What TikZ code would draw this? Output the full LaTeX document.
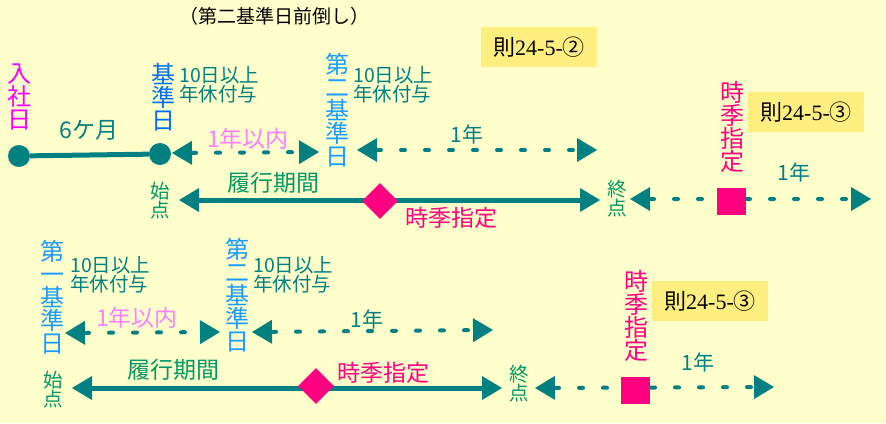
\documentclass[tikz,border=0pt]{standalone}
\usepackage{fontspec}
\setmainfont{Noto Sans CJK JP}
\newfontfamily\jp{Noto Sans CJK JP}
\newfontfamily\ser{Liberation Serif}
\usetikzlibrary{arrows.meta,shapes.geometric}
\definecolor{bgc}{HTML}{FFFFCC}
\definecolor{boxc}{HTML}{FFEE80}
\definecolor{tealc}{HTML}{008080}
\definecolor{greenc}{HTML}{009966}
\definecolor{magc}{HTML}{FF00FF}
\definecolor{pinkc}{HTML}{FF0080}
\definecolor{lpinkc}{HTML}{FF80FF}
\definecolor{bluec}{HTML}{0070F0}
\definecolor{lbluec}{HTML}{1A9CFF}
\tikzset{
  vtext/.style={align=center,inner sep=0pt,font=\fontsize{24}{23}\selectfont},
  smalltext/.style={align=left,inner sep=0pt,text=tealc,font=\fontsize{19.5}{18}\selectfont},
  pttext/.style={align=center,inner sep=0pt,text=greenc,font=\fontsize{19.5}{19}\selectfont},
  midtext/.style={inner sep=0pt,font=\fontsize{23}{24}\selectfont},
  refbox/.style={fill=boxc,minimum width=116pt,minimum height=40pt,inner sep=0pt,font=\fontsize{22}{22}\selectfont},
  dotline/.style={draw=tealc,line width=4pt,line cap=round,dash pattern=on 4pt off 20pt,
     {Triangle[length=20pt,width=24pt,fill=tealc,line width=0pt]}-{Triangle[length=20pt,width=24pt,fill=tealc,line width=0pt]}},
  solidarrow/.style={draw=tealc,line width=5pt,
     {Triangle[length=20pt,width=24pt,fill=tealc,line width=0pt]}-{Triangle[length=20pt,width=24pt,fill=tealc,line width=0pt]}},
  solidline/.style={draw=tealc,line width=5pt},
  dotc/.style={circle,fill=tealc,minimum size=22pt,inner sep=0pt},
  dia/.style={diamond,fill=pinkc,minimum width=36pt,minimum height=36pt,inner sep=0pt},
  sq/.style={rectangle,fill=pinkc,minimum width=29pt,minimum height=27pt,inner sep=0pt}
}
\begin{document}
\begin{tikzpicture}[x=1pt,y=-1pt]
\fill[bgc] (0,0) rectangle (886,423);
\useasboundingbox (0,0) rectangle (886,423);
% title
\node[inner sep=0pt,font=\fontsize{19}{20}\selectfont] (title) at (274,16) {（第二基準日前倒し）};
% ref boxes
\node[refbox] (box2) at (539,47) {則{\ser 24-5-}②};
\node[refbox] (box3a) at (806,112) {則{\ser 24-5-}③};
\node[refbox] (box3b) at (710,301) {則{\ser 24-5-}③};
% ---------- top section ----------
\node[vtext,text=magc] (nyusha) at (19,97) {入\\社\\日};
\node[vtext,text=bluec] (kijun) at (163,97) {基\\準\\日};
\node[smalltext,anchor=north west] (fuyo1) at (179,66) {10日以上\\年休付与};
\node[vtext,text=lbluec] (dai2a) at (337,110) {第\\二\\基\\準\\日};
\node[smalltext,anchor=north west] (fuyo2) at (353,66) {10日以上\\年休付与};
\node[dotc] (c1) at (19,156) {};
\node[dotc] (c2) at (160,154) {};
\draw[solidline] (c1) -- (c2);
\node[midtext,text=tealc] (sixm) at (89,130) {6ケ月};
\coordinate (a1L) at (172,153);
\coordinate (a1R) at (319,152);
\draw[dotline] (a1L) -- (a1R);
\node[midtext,text=lpinkc] (within1) at (248,139) {1年以内};
\coordinate (a2L) at (357,150);
\coordinate (a2R) at (597,150);
\draw[dotline] (a2L) -- (a2R);
\node[midtext,text=tealc,font=\fontsize{21}{22}\selectfont] (yr1) at (467,134) {1年};
\node[pttext] (start1) at (160,201) {始\\点};
\node[midtext,text=greenc] (rikou1) at (273,183) {履行期間};
\coordinate (m1L) at (179,200);
\coordinate (m1R) at (600,200);
\draw[solidarrow] (m1L) -- (m1R);
\node[dia] (d1) at (380,201) {};
\node[midtext,text=pinkc] (jiki1) at (451,218) {時季指定};
\node[pttext] (end1) at (617,199) {終\\点};
\coordinate (r1L) at (630,199);
\coordinate (r1R) at (871,199);
\draw[dotline] (r1L) -- (r1R);
\node[sq] (s1) at (731,201) {};
\node[vtext,text=pinkc] (jikiv1) at (732,127) {時\\季\\指\\定};
\node[midtext,text=tealc,font=\fontsize{21}{22}\selectfont] (yr2) at (794,172) {1年};
% ---------- bottom section ----------
\node[vtext,text=lbluec] (dai1b) at (52,297) {第\\一\\基\\準\\日};
\node[smalltext,anchor=north west] (fuyo3) at (70,256) {10日以上\\年休付与};
\node[vtext,text=lbluec] (dai2b) at (237,295) {第\\二\\基\\準\\日};
\node[smalltext,anchor=north west] (fuyo4) at (253,256) {10日以上\\年休付与};
\coordinate (b1L) at (65,333);
\coordinate (b1R) at (220,332);
\draw[dotline] (b1L) -- (b1R);
\node[midtext,text=lpinkc] (within2) at (137,318) {1年以内};
\coordinate (b2L) at (252,332);
\coordinate (b2R) at (493,330);
\draw[dotline] (b2L) -- (b2R);
\node[midtext,text=tealc,font=\fontsize{21}{22}\selectfont] (yr3) at (367,319) {1年};
\node[pttext] (start2) at (53,390) {始\\点};
\node[midtext,text=greenc] (rikou2) at (173,370) {履行期間};
\coordinate (m2L) at (72,388);
\coordinate (m2R) at (502,388);
\draw[solidarrow] (m2L) -- (m2R);
\node[dia] (d2) at (316,386) {};
\node[midtext,text=pinkc] (jiki2) at (383,373) {時季指定};
\node[pttext] (end2) at (519,384) {終\\点};
\coordinate (r2L) at (535,388);
\coordinate (r2R) at (774,387);
\draw[dotline] (r2L) -- (r2R);
\node[sq] (s2) at (635,390) {};
\node[vtext,text=pinkc] (jikiv2) at (636,316) {時\\季\\指\\定};
\node[midtext,text=tealc,font=\fontsize{21}{22}\selectfont] (yr4) at (698,362) {1年};
\end{tikzpicture}
\end{document}
